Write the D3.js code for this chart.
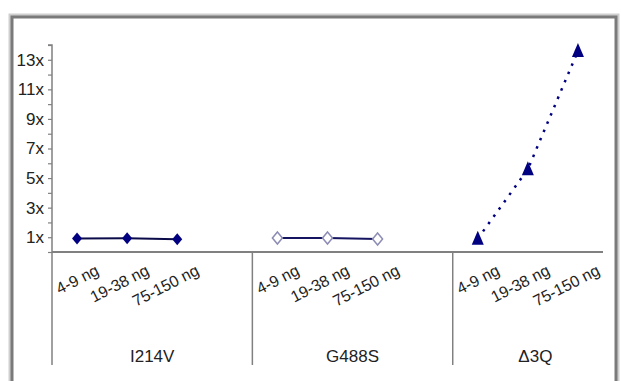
<!DOCTYPE html>
<html>
<head>
<meta charset="utf-8">
<script src="https://cdn.jsdelivr.net/npm/d3@7"></script>
<style>
	body { margin: 0; background: #fff; }
	svg { display: block; font-family: "Liberation Sans", Arial, sans-serif; }
</style>
</head>
<body>
<div id="chart"></div>
<script>
// groups (outer category level) and doses (inner level)
const groups = ["I214V", "G488S", "\u03943Q"];
const doses = ["4-9 ng", "19-38 ng", "75-150 ng"];

// fold change per dose
const i214v = [0.92, 0.93, 0.87];
const g488s = [0.95, 0.95, 0.88];
const d3q = [0.9, 5.6, 13.6];

const yTicks = [1, 3, 5, 7, 9, 11, 13];

const width = 621, height = 381;
const plot = { left: 52, right: 603, top: 45, bottom: 252 };

const svg = d3.select("#chart").append("svg")
	.attr("width", width)
	.attr("height", height);

// outer frame with a soft shadow
svg.append("rect")
	.attr("x", 12).attr("y", 17)
	.attr("width", 604).attr("height", 420)
	.attr("fill", "none")
	.attr("stroke", "#cfcfcf")
	.attr("stroke-width", 7);
svg.append("rect")
	.attr("x", 12).attr("y", 17)
	.attr("width", 604).attr("height", 420)
	.attr("fill", "#fff")
	.attr("stroke", "#7a7a7a")
	.attr("stroke-width", 3);

// slots: three doses per group plus an empty gap slot between groups
const slots = [];
groups.forEach((g, gi) => {
	doses.forEach(d => slots.push(g + "|" + d));
	if (gi < groups.length - 1) slots.push(g + "|gap");
});

const x = d3.scaleBand()
	.domain(slots)
	.range([plot.left, plot.right])
	.padding(0);

const y = d3.scaleLinear()
	.domain([0, 14])
	.range([plot.bottom, plot.top]);

const cx = (g, d) => x(g + "|" + d) + x.bandwidth() / 2;

// y axis
const yAxis = svg.append("g")
	.attr("transform", `translate(${plot.left},0)`)
	.call(d3.axisLeft(y)
		.tickValues(d3.range(0, 15))
		.tickSize(4)
		.tickFormat(d => yTicks.includes(d) ? d + "x" : ""));
yAxis.select(".domain").attr("stroke", "#808080").attr("stroke-width", 1.5)
	.attr("d", `M-4,${y(14)}H0V${y(0)}`);
yAxis.selectAll(".tick line").attr("stroke", "#808080").attr("stroke-width", 1.2);
yAxis.selectAll(".tick text")
	.attr("x", -8)
	.attr("fill", "#222")
	.style("font-size", "17px")
	.style("font-family", "'Liberation Sans', Arial, sans-serif");

// category axis line
svg.append("line")
	.attr("x1", plot.left).attr("x2", plot.right)
	.attr("y1", y(0)).attr("y2", y(0))
	.attr("stroke", "#808080")
	.attr("stroke-width", 2);

// group dividers and labels
groups.forEach((g, gi) => {
	const x0 = x(g + "|" + doses[0]);
	const x1 = gi < groups.length - 1 ? x(groups[gi + 1] + "|" + doses[0]) : plot.right + 15;
	svg.append("line")
		.attr("x1", x0).attr("x2", x0)
		.attr("y1", y(0)).attr("y2", 365)
		.attr("stroke", "#808080")
		.attr("stroke-width", 1.5);
	svg.append("text")
		.attr("x", (x0 + x1) / 2)
		.attr("y", 362)
		.attr("text-anchor", "middle")
		.attr("fill", "#222")
		.style("font-size", "17px")
		.text(g);

	// rotated dose labels
	doses.forEach(d => {
		const px = cx(g, d) + 23, py = 274;
		svg.append("text")
			.attr("transform", `translate(${px},${py}) rotate(-27)`)
			.attr("text-anchor", "end")
			.attr("fill", "#222")
			.style("font-size", "16px")
			.text(d);
	});
});

const navy = "#000080";
const line = d3.line().x(p => p.x).y(p => p.y);
const pts = (g, vals) => vals.map((v, i) => ({ x: cx(g, doses[i]), y: y(v) }));

// I214V: solid line, filled diamonds
svg.append("path")
	.attr("d", line(pts(groups[0], i214v)))
	.attr("fill", "none").attr("stroke", "#0b0b4a").attr("stroke-width", 2);
// G488S: solid line, hollow diamonds
svg.append("path")
	.attr("d", line(pts(groups[1], g488s)))
	.attr("fill", "none").attr("stroke", "#141460").attr("stroke-width", 2);
// Δ3Q: dotted line, triangles
svg.append("path")
	.attr("d", line(pts(groups[2], d3q)))
	.attr("fill", "none").attr("stroke", navy)
	.attr("stroke-width", 2.5)
	.attr("stroke-dasharray", "2.5,6.5");

const diamond = "M0,-6L5,0L0,6L-5,0Z";
const triangle = "M0,-8L6,6L-6,6Z";

svg.append("g").selectAll("path")
	.data(pts(groups[0], i214v))
	.join("path")
	.attr("transform", p => `translate(${p.x},${p.y})`)
	.attr("d", diamond)
	.attr("fill", navy);

svg.append("g").selectAll("path")
	.data(pts(groups[1], g488s))
	.join("path")
	.attr("transform", p => `translate(${p.x},${p.y})`)
	.attr("d", diamond)
	.attr("fill", "#fff")
	.attr("stroke", "#8c8cb4")
	.attr("stroke-width", 1.5);

svg.append("g").selectAll("path")
	.data(pts(groups[2], d3q))
	.join("path")
	.attr("transform", p => `translate(${p.x},${p.y})`)
	.attr("d", triangle)
	.attr("fill", navy);
</script>
</body>
</html>
